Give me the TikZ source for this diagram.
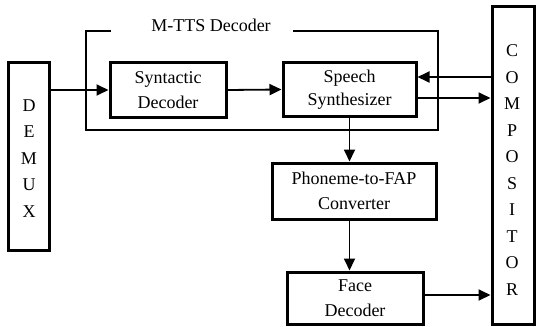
\documentclass[tikz,border=0pt]{standalone}
\usepackage{fontspec}
\setmainfont{Liberation Serif}
\usetikzlibrary{arrows.meta,calc}
\begin{document}
\begin{tikzpicture}[x=1pt,y=-1pt,
  blk/.style={draw,line width=3pt,inner sep=0pt,align=center,
    font=\fontsize{18}{25.5}\selectfont},
  letters/.style={inner sep=0pt,align=center,font=\fontsize{18}{26.5}\selectfont},
  arr/.style={line width=1.8pt,-{Triangle[length=12pt,width=11pt]}},
  brk/.style={line width=1.1pt}]
\useasboundingbox (0,0) rectangle (537,326);
\node[blk,minimum width=41pt,minimum height=187pt] (demux) at (29,156.5) {};
\node[letters] (demuxt) at (29,158.5) {D\\E\\M\\U\\X};
\node[blk,minimum width=42pt,minimum height=317pt] (comp) at (513,165.5) {};
\node[letters] (compt) at (512,170) {C\\O\\M\\P\\O\\S\\I\\T\\O\\R};
\node[blk,minimum width=116pt,minimum height=54pt] (syn) at (168,90) {Syntactic\\Decoder};
\node[blk,minimum width=133pt,minimum height=53pt,font=\fontsize{18}{23.5}\selectfont] (sp) at (349.5,89.5) {Speech\\Synthesizer};
\node[blk,minimum width=164pt,minimum height=56pt] (ph) at (354,191) {Phoneme-to-FAP\\Converter};
\node[blk,minimum width=136pt,minimum height=52pt] (face) at (355,298) {Face\\Decoder};
\node[font=\fontsize{18}{20}\selectfont,inner sep=0pt] (mtts) at (211,25) {M-TTS Decoder};
\coordinate (b1) at (111,31);
\coordinate (b2) at (86,31);
\coordinate (b3) at (86,130);
\coordinate (b4) at (438,130);
\coordinate (b5) at (438,31);
\coordinate (b6) at (293,31);
\draw[brk] (b1) -- (b2) -- (b3) -- (b4) -- (b5) -- (b6);
\draw[arr] (syn.west -| demux.east) -- (syn.west);
\draw[arr] (syn.east) -- (sp.west);
\draw[arr] ([yshift=12.5pt]sp.east -| comp.west) -- ([yshift=12.5pt]sp.east);
\draw[arr] ([yshift=-8.5pt]sp.east) -- ([yshift=-8.5pt]sp.east -| comp.west);
\draw[arr] (sp.south) -- (sp.south |- ph.north);
\draw[arr] (sp.south |- ph.south) -- (sp.south |- face.north);
\draw[arr] ([yshift=3pt]face.east) -- ([yshift=3pt]face.east -| comp.west);
\end{tikzpicture}
\end{document}
